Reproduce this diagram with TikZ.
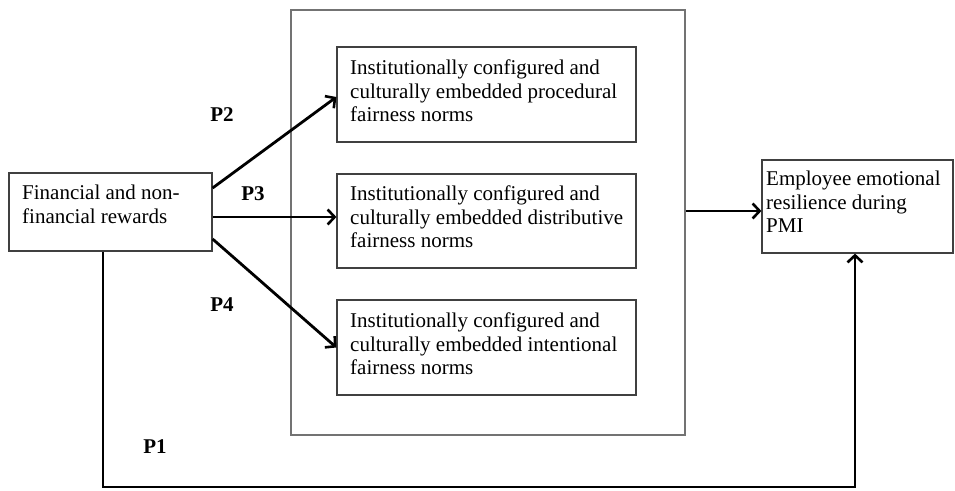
\documentclass[tikz,border=0pt]{standalone}
\usepackage{fontspec}
\setmainfont{Liberation Serif}
\usetikzlibrary{arrows.meta}
\begin{document}
\begin{tikzpicture}[x=1pt,y=-1pt,
  box/.style={draw=black!75, line width=1.2pt, inner sep=0pt, fill=white},
  frame/.style={draw=black!55, line width=1.5pt, inner sep=0pt},
  txt/.style={anchor=north west, inner sep=0pt, align=left,
     font=\fontsize{21pt}{23.5pt}\selectfont},
  plab/.style={inner sep=0pt, font=\fontsize{21pt}{23pt}\selectfont\bfseries},
  arr/.style={line width=2.8pt, -{Straight Barb[length=7pt,width=15pt,line width=2.6pt]}}
]
\useasboundingbox (0,0) rectangle (955,490);
% container
\node[frame, minimum width=394pt, minimum height=425pt] (cont) at (488,222.5) {};
% boxes
\node[box, minimum width=203pt, minimum height=78pt] (fin) at (110.5,212) {};
\node[box, minimum width=299pt, minimum height=95pt] (b1) at (486.5,94.5) {};
\node[box, minimum width=299pt, minimum height=94pt] (b2) at (486.5,221) {};
\node[box, minimum width=299pt, minimum height=95pt] (b3) at (486.5,347.5) {};
\node[box, minimum width=191pt, minimum height=93pt] (res) at (857.5,206.5) {};
% texts
\node[txt] (fint) at (22,185) {Financial and non-\\financial rewards};
\node[txt] (b1t) at (350,60) {Institutionally configured and\\culturally embedded procedural\\fairness norms};
\node[txt] (b2t) at (350,186) {Institutionally configured and\\culturally embedded distributive\\fairness norms};
\node[txt] (b3t) at (350,313) {Institutionally configured and\\culturally embedded intentional\\fairness norms};
\node[txt] (rest) at (766,171) {Employee emotional\\resilience during\\PMI};
% labels
\node[plab] (p2) at (222,115) {P2};
\node[plab] (p3) at (253,194) {P3};
\node[plab] (p4) at (222,305) {P4};
\node[plab] (p1) at (155,447) {P1};
% arrows
\draw[arr] ([yshift=24pt]fin.east) -- ([yshift=-2.5pt]b1.west);
\draw[arr] ([yshift=-5pt]fin.east) -- ([yshift=-5pt]fin.east -| b2.west);
\draw[arr] ([yshift=-27pt]fin.east) -- (b3.west);
\draw[arr] ([yshift=-4.5pt]res.west -| cont.east) -- ([yshift=-4.5pt]res.west);
\coordinate (bl) at (103,487);
\coordinate (br) at (855,487);
\draw[arr, line join=miter] ([xshift=-7.5pt]fin.south) -- (bl) -- (br) -- ([xshift=-2.5pt]res.south);
\end{tikzpicture}
\end{document}
